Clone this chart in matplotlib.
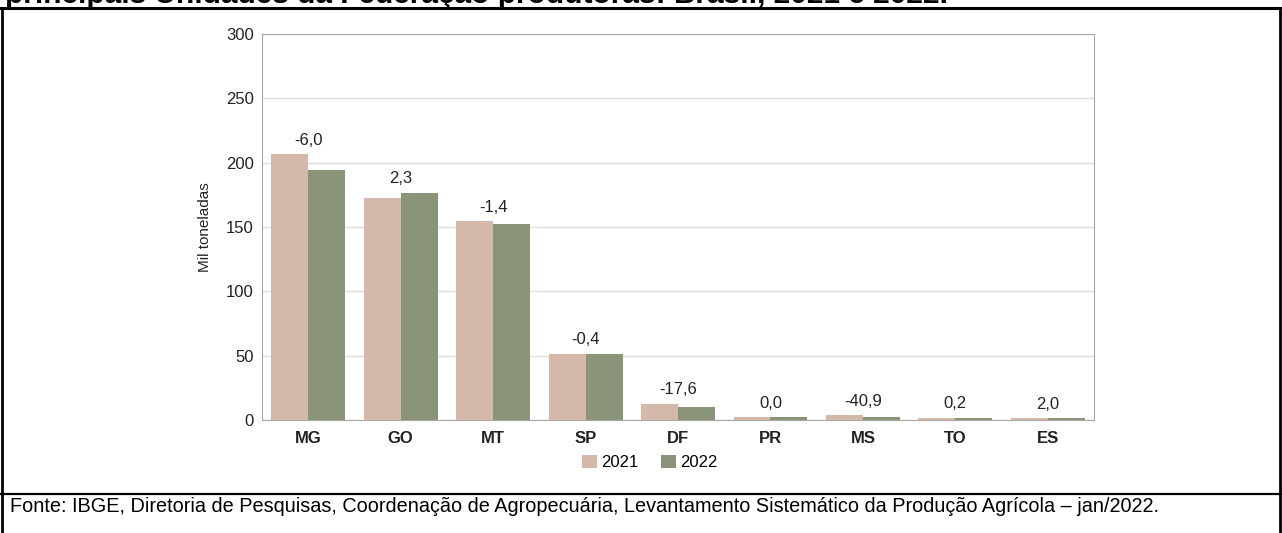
import matplotlib
matplotlib.use('Agg')
import matplotlib.pyplot as plt
import numpy as np
from matplotlib.lines import Line2D

# Produção por UF, 2021 x 2022 (mil toneladas)
ufs = ['MG', 'GO', 'MT', 'SP', 'DF', 'PR', 'MS', 'TO', 'ES']
prod_2021 = [206.5, 172.8, 154.4, 51.4, 12.5, 2.3, 3.7, 1.8, 1.6]
prod_2022 = [194.0, 176.8, 152.2, 51.2, 10.3, 2.3, 2.2, 1.8, 1.6]
variacao = ['-6,0', '2,3', '-1,4', '-0,4', '-17,6', '0,0', '-40,9', '0,2', '2,0']
anos = ['2021', '2022']

cor_2021 = '#d4b9aa'
cor_2022 = '#8a9479'

plt.rcParams['font.family'] = ['Liberation Sans', 'DejaVu Sans']

fig = plt.figure(figsize=(12.82, 5.33), dpi=100)
ax = fig.add_axes([0.2044, 0.212, 0.649, 0.724])

x = np.arange(len(ufs))
w = 0.4
ax.bar(x - w/2, prod_2021, w, color=cor_2021, label=anos[0], zorder=3)
ax.bar(x + w/2, prod_2022, w, color=cor_2022, label=anos[1], zorder=3)

for i, txt in enumerate(variacao):
    topo = max(prod_2021[i], prod_2022[i])
    ax.text(x[i], topo + 5, txt, ha='center', va='bottom', fontsize=12, color='#222222')

ax.set_xlim(-0.5, len(ufs) - 0.5)
ax.set_ylim(0, 300)
ax.set_yticks(range(0, 301, 50))
ax.set_xticks(x)
ax.set_xticklabels(ufs, fontweight='bold', fontsize=12)
ax.tick_params(axis='both', length=0, labelsize=12, colors='#222222')
ax.tick_params(axis='x', pad=8)
ax.tick_params(axis='y', pad=6)
ax.yaxis.grid(True, color='#dedede', linewidth=1, zorder=0)
for s in ax.spines.values():
    s.set_color('#a8a8a8')
ax.set_ylabel('Mil toneladas', fontsize=11, labelpad=10, color='#222222')

ax.legend(loc='center', bbox_to_anchor=(0.466, -0.11), ncol=2, frameon=False,
          fontsize=12, handlelength=0.9, handleheight=0.9, columnspacing=1.3, handletextpad=0.3)

# título cortado no topo (como no original)
fig.text(0.004, 1 - 3/533, 'principais Unidades da Federação produtoras: Brasil, 2021 e 2022.',
         ha='left', va='baseline', fontsize=21.5, fontweight='bold')

# bordas do quadro
H = 533.0
W = 1282.0
fig.add_artist(Line2D([0, 1], [1 - 8/H, 1 - 8/H], color='black', linewidth=2.2, transform=fig.transFigure))
fig.add_artist(Line2D([0, 1], [1 - 494/H, 1 - 494/H], color='black', linewidth=1.6, transform=fig.transFigure))
fig.add_artist(Line2D([2/W, 2/W], [0, 1 - 8/H], color='black', linewidth=2, transform=fig.transFigure))
fig.add_artist(Line2D([1 - 2/W, 1 - 2/W], [0, 1 - 8/H], color='black', linewidth=2, transform=fig.transFigure))

fig.text(10/W, 1 - 507/H, 'Fonte: IBGE, Diretoria de Pesquisas, Coordenação de Agropecuária, '
         'Levantamento Sistemático da Produção Agrícola – jan/2022.',
         ha='left', va='center', fontsize=14.3)

fig.savefig('out.png', dpi=100)
